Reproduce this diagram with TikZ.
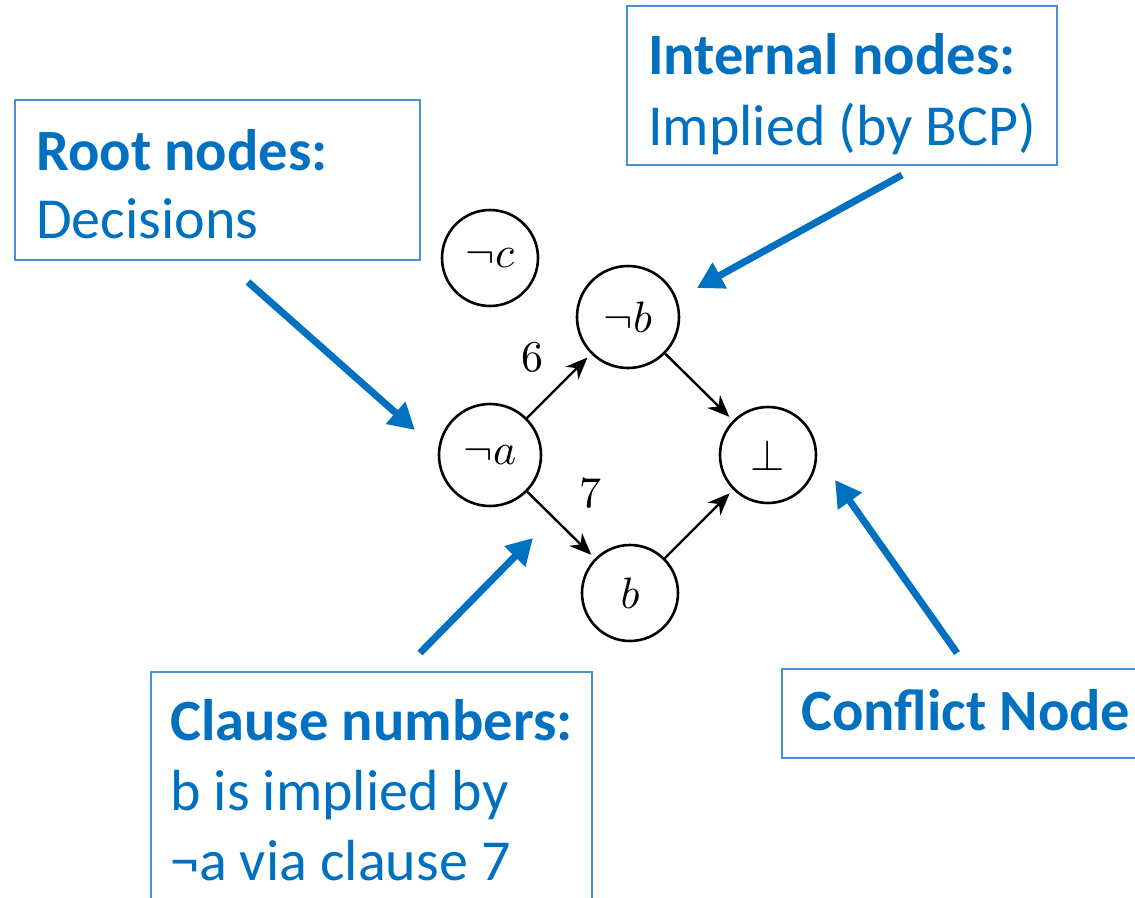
\documentclass[tikz,border=0pt]{standalone}
\usepackage{fontspec}
\setmainfont{Carlito}
\usetikzlibrary{arrows.meta}
\definecolor{callout}{HTML}{0070C0}
\definecolor{frame}{HTML}{4A90D2}
\newcommand{\graphmath}[1]{\scalebox{4.4}{#1}}
\tikzset{
  vertex/.style={circle, draw=black, line width=2.6pt, minimum size=96pt, inner sep=0pt},
  elabel/.style={inner sep=0pt},
  implies/.style={line width=2.4pt, -{Stealth[length=22pt,width=18pt,inset=7pt]}, shorten >=5pt},
  notebox/.style={draw=frame, line width=1.5pt, fill=white},
  head/.style={inner sep=0pt, anchor=base west, text=callout, font=\fontsize{58.5}{66}\selectfont\bfseries},
  body/.style={inner sep=0pt, anchor=base west, text=callout, font=\fontsize{58}{66}\selectfont},
  pointer/.style={draw=callout, line width=7pt, -{Triangle[length=26pt,width=28pt]}},
}
\begin{document}
\begin{tikzpicture}[x=1pt,y=-1pt]
\useasboundingbox (0,0) rectangle (1135,897);
\clip (0,0) rectangle (1135,897);

% implication graph
\node[vertex] (nc) at (490,258) {\graphmath{$\neg c$}};
\node[vertex, minimum size=102pt] (nb) at (628,317) {\graphmath{$\neg b$}};
\node[vertex, minimum size=102pt] (na) at (490,455) {\graphmath{$\neg a$}};
\node[vertex] (bot) at (768,455) {\graphmath{$\bot$}};
\node[vertex] (b) at (630,593) {\graphmath{$b$}};
\draw[implies] (na) -- (nb);
\draw[implies] (na) -- (b);
\draw[implies] (nb) -- (bot);
\draw[implies] (b) -- (bot);
\node[elabel] (c6) at (532,357) {\graphmath{$6$}};
\node[elabel] (c7) at (590,493) {\graphmath{$7$}};

% callout boxes
\draw[notebox] (15,100) rectangle (420,260);
\node[head] (rootA) at (36,170) {Root nodes:};
\node[body] (rootB) at (36,238) {Decisions};

\draw[notebox] (627,6) rectangle (1057,165);
\node[head] (intA) at (648,74) {Internal nodes:};
\node[body] (intB) at (648,145) {Implied (by BCP)};

\draw[notebox] (151,672) rectangle (592,920);
\node[head] (clA) at (170,740) {Clause numbers:};
\node[body] (clB) at (170,810) {b is implied by};
\node[body] (clC) at (170,880) {¬a via clause 7};

\draw[notebox] (782,669) rectangle (1150,758);
\node[head] (cfA) at (801,730) {Conflict Node};

% pointers from the notes to the graph
\coordinate (pRoot) at (248,282);  \coordinate (tRoot) at (415,430);
\coordinate (pInt)  at (902,175);  \coordinate (tInt)  at (697,288);
\coordinate (pCl)   at (420,653);  \coordinate (tCl)   at (533,538);
\coordinate (pCf)   at (957,653);  \coordinate (tCf)   at (835,480);
\draw[pointer] (pRoot) -- (tRoot);
\draw[pointer] (pInt) -- (tInt);
\draw[pointer] (pCl) -- (tCl);
\draw[pointer] (pCf) -- (tCf);
\end{tikzpicture}
\end{document}
